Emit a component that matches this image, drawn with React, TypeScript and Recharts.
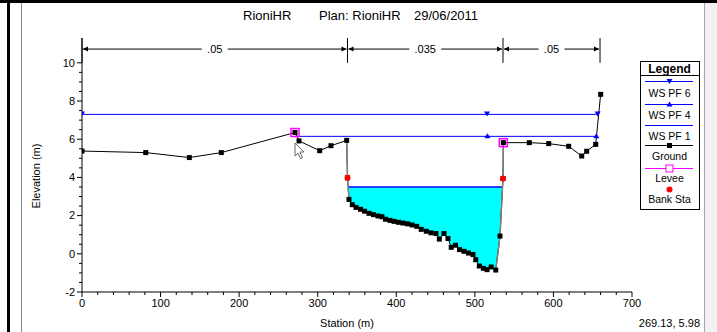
// App.tsx
// HEC-RAS style cross section (RioniHR) drawn with Recharts

import { ComposedChart, Line, Area, XAxis, YAxis, ReferenceLine } from 'recharts'

// ground profile, station (m) and elevation (m)
const groundStation = [
  0, 81.1, 136.6, 177.3, 271.1, 276.2, 302.5, 316.9, 336.9, 337.9,
  339.8, 344, 348.7, 354.5, 359.6, 365.3, 371, 376.7, 381.8, 386.3,
  392, 397.1, 402.8, 408.6, 414.3, 420, 426, 431.7, 438.2, 444.2,
  450.5, 454.8, 460.7, 465.8, 469.9, 475.4, 480.5, 486.2, 491.9, 497.6,
  501.1, 505.7, 510.8, 515.5, 520.8, 526.6, 532, 535.8, 536.2, 569.3,
  594, 619.4, 636, 642.3, 653.8, 660.1,
]
const groundElev = [
  5.38, 5.3, 5.04, 5.3, 6.35, 5.91, 5.4, 5.66, 5.94, 3.98,
  2.85, 2.57, 2.43, 2.33, 2.23, 2.12, 2.05, 1.98, 1.94, 1.81,
  1.75, 1.7, 1.65, 1.61, 1.57, 1.51, 1.44, 1.28, 1.18, 1.1,
  1.06, 0.77, 1.06, 0.8, 0.34, 0.45, 0.22, 0.13, 0.04, -0.04,
  -0.31, -0.64, -0.76, -0.83, -0.69, -0.85, 0.93, 3.94, 5.82, 5.82,
  5.77, 5.63, 5.12, 5.37, 5.73, 8.35,
]

const leveeStation = [271.1, 536.2]
const leveeElev = [6.35, 5.82]

const bankStation = [337.9, 535.8]
const bankElev = [3.98, 3.94]

// water surfaces
const wsPf6Station = [0, 515.5, 656.3]
const wsPf6Elev = 7.3
const wsPf4Station = [271.1, 516, 654.6]
const wsPf4Elev = 6.15
const wsPf1Station = [338.7, 535.2]
const wsPf1Elev = 3.5

// manning's n breaks
const nStations = [0, 337.9, 535.8, 659.3]
const nValues = ['.05', '.035', '.05']
const nElev = 10.72

const xMajorTicks = [0, 100, 200, 300, 400, 500, 600, 700]
const yMajorTicks = [-2, 0, 2, 4, 6, 8, 10]
const xTicks = Array.from({ length: 36 }, (_, i) => i * 20)
const yTicks = Array.from({ length: 25 }, (_, i) => -2 + i * 0.5)

const groundData = groundStation.map((s, i) => ({ station: s, elev: groundElev[i] }))
const leveeData = leveeStation.map((s, i) => ({ station: s, elev: leveeElev[i] }))
const bankData = bankStation.map((s, i) => ({ station: s, elev: bankElev[i] }))
const pf6Data = wsPf6Station.map(s => ({ station: s, elev: wsPf6Elev }))
const pf4Data = wsPf4Station.map(s => ({ station: s, elev: wsPf4Elev }))
const pf1Data = wsPf1Station.map(s => ({ station: s, elev: wsPf1Elev }))

// steep bank walls are drawn grey in the original
const leftWall = groundData.slice(8, 11)
const rightWall = groundData.slice(45, 49)

const [wLeft, wRight] = wsPf1Station
const waterData = [
  { station: wLeft, range: [wsPf1Elev, wsPf1Elev] },
  ...groundData
    .filter(p => p.station > wLeft && p.station < wRight)
    .map(p => ({ station: p.station, range: [p.elev, wsPf1Elev] })),
  { station: wRight, range: [wsPf1Elev, wsPf1Elev] },
]

const FONT = 'Arial, "Liberation Sans", sans-serif'
const BLUE = '#0000ff'

const YTick = (props: any) => {
  const { x, y, payload } = props
  const axisX = x + 3 + 4
  const major = yMajorTicks.includes(payload.value)
  return (
    <g>
      <line x1={axisX - (major ? 5 : 3)} y1={y} x2={axisX} y2={y} stroke="#000" />
      {major && (
        <text x={x} y={y} dy="0.35em" textAnchor="end" fontSize={11} fill="#000" fontFamily={FONT}>
          {payload.value}
        </text>
      )}
    </g>
  )
}

const XTick = (props: any) => {
  const { x, y, payload } = props
  const axisY = y - 4 - 2
  const major = xMajorTicks.includes(payload.value)
  return (
    <g>
      <line x1={x} y1={axisY} x2={x} y2={axisY + (major ? 5 : 3)} stroke="#000" />
      {major && (
        <text x={x} y={y} dy="0.8em" textAnchor="middle" fontSize={11} fill="#000" fontFamily={FONT}>
          {payload.value}
        </text>
      )}
    </g>
  )
}

const SquareDot = (props: any) => {
  const { cx, cy, index } = props
  if (cx == null || cy == null) return <g key={index} />
  return <rect key={index} x={cx - 2.5} y={cy - 2.5} width={5} height={5} fill="#000" />
}

const LeveeDot = (props: any) => {
  const { cx, cy, index } = props
  return (
    <g key={index}>
      <rect x={cx - 4} y={cy - 4} width={8} height={8} fill="none" stroke="#ff00ff" strokeWidth={1.5} />
      <rect x={cx - 2} y={cy - 2} width={4} height={4} fill="#000" />
    </g>
  )
}

const BankDot = (props: any) => {
  const { cx, cy, index } = props
  return <circle key={index} cx={cx} cy={cy} r={3} fill="#ff0000" />
}

const DownTri = (props: any) => {
  const { cx, cy, index } = props
  return <path key={index} d={`M${cx - 3},${cy - 3}L${cx + 3},${cy - 3}L${cx},${cy + 2}Z`} fill={BLUE} />
}

// pf4 starts at the levee, no marker there
const UpTri = (props: any) => {
  const { cx, cy, index } = props
  if (index === 0) return <g key={index} />
  return <path key={index} d={`M${cx - 3},${cy + 2}L${cx + 3},${cy + 2}L${cx},${cy - 3}Z`} fill={BLUE} />
}

const nArrow = (label: string) => (props: any) => {
  const { x1, y1, x2 } = props
  const mid = (x1 + x2) / 2
  const gap = label.length * 3 + 4
  return (
    <g>
      <line x1={x1 + 1} y1={y1} x2={mid - gap} y2={y1} stroke="#000" />
      <line x1={mid + gap} y1={y1} x2={x2 - 1} y2={y1} stroke="#000" />
      <path d={`M${x1 + 1},${y1}L${x1 + 6},${y1 - 2.5}L${x1 + 6},${y1 + 2.5}Z`} fill="#000" />
      <path d={`M${x2 - 1},${y1}L${x2 - 6},${y1 - 2.5}L${x2 - 6},${y1 + 2.5}Z`} fill="#000" />
      <text x={mid} y={y1} dy="0.35em" textAnchor="middle" fontSize={11} fontFamily={FONT} fill="#000">
        {label}
      </text>
    </g>
  )
}

function LegendBox() {
  const lx1 = 645
  const lx2 = 693
  const cx = 669.5
  const txt = (y: number, s: string) => (
    <text x={cx} y={y} dy="0.35em" textAnchor="middle" fontSize={10.5} fontFamily={FONT} fill="#000">{s}</text>
  )
  return (
    <g>
      <rect x={640.5} y={61.5} width={59} height={148} fill="#fff" stroke="#000" />
      <text x={cx} y={68.5} dy="0.35em" textAnchor="middle" fontSize={12} fontWeight="bold" fontFamily={FONT}>Legend</text>
      <line x1={640.5} y1={75.5} x2={699.5} y2={75.5} stroke="#000" />
      <line x1={lx1} y1={81.5} x2={lx2} y2={81.5} stroke={BLUE} />
      <path d={`M${cx - 3},${79}L${cx + 3},${79}L${cx},${84}Z`} fill={BLUE} />
      {txt(93.5, 'WS PF 6')}
      <line x1={lx1} y1={104.5} x2={lx2} y2={104.5} stroke={BLUE} />
      <path d={`M${cx - 3},${106.5}L${cx + 3},${106.5}L${cx},${101.5}Z`} fill={BLUE} />
      {txt(115, 'WS PF 4')}
      <line x1={lx1} y1={125.5} x2={lx2} y2={125.5} stroke={BLUE} />
      {txt(136, 'WS PF 1')}
      <line x1={lx1} y1={145.5} x2={lx2} y2={145.5} stroke="#000" />
      <rect x={cx - 2.5} y={143} width={5} height={5} fill="#000" />
      {txt(156.5, 'Ground')}
      <line x1={lx1} y1={168.5} x2={lx2} y2={168.5} stroke="#ff00ff" />
      <rect x={cx - 3.5} y={165} width={7} height={7} fill="#fff" stroke="#ff00ff" />
      {txt(178.5, 'Levee')}
      <circle cx={cx} cy={189.5} r={3} fill="#ff0000" />
      {txt(199.5, 'Bank Sta')}
    </g>
  )
}

function Overlay() {
  return (
    <svg
      width={717}
      height={332}
      style={{ position: 'absolute', left: 0, top: 0, pointerEvents: 'none' }}
      fontFamily={FONT}
    >
      <rect x={0} y={0} width={717} height={3} fill="#000" />
      <rect x={7} y={0} width={3} height={332} fill="#000" />
      <line x1={21.5} y1={3} x2={21.5} y2={332} stroke="#8a8a8a" />
      <rect x={705} y={3} width={12} height={329} fill="#f2f2f2" />
      <line x1={704.5} y1={3} x2={704.5} y2={332} stroke="#a8a8a8" />

      <text x={243} y={19.5} fontSize={13} fill="#000">RioniHR</text>
      <text x={319} y={19.5} fontSize={13} fill="#000">Plan: RioniHR</text>
      <text x={414} y={19.5} fontSize={13} fill="#000">29/06/2011</text>

      <text x={36} y={176} transform="rotate(-90 36 176)" textAnchor="middle" dy="0.35em" fontSize={11} fill="#000">
        Elevation (m)
      </text>
      <text x={347} y={323} textAnchor="middle" dy="0.35em" fontSize={11} fill="#000">Station (m)</text>
      <text x={700} y={323} textAnchor="end" dy="0.35em" fontSize={11} fill="#000">269.13, 5.98</text>

      <LegendBox />

      <path
        d="M295,143 L295,156 L298,153 L300.5,158.5 L302.5,157.5 L300,152 L304,152 Z"
        fill="#fff"
        stroke="#666"
        strokeWidth={1}
      />
    </svg>
  )
}

export default function App() {
  return (
    <div style={{ position: 'absolute', left: 0, top: 0, width: 717, height: 332, background: '#fff', fontFamily: FONT }}>
      <ComposedChart width={717} height={332} margin={{ top: 38, right: 85, bottom: 0, left: 0 }}>
        <XAxis
          type="number"
          dataKey="station"
          domain={[0, 700]}
          ticks={xTicks}
          interval={0}
          allowDataOverflow
          tickLine={false}
          tickSize={4}
          tickMargin={2}
          tick={XTick}
          axisLine={{ stroke: '#000' }}
          height={40}
        />
        <YAxis
          type="number"
          domain={[-2, 11.3]}
          ticks={yTicks}
          interval={0}
          allowDataOverflow
          tickLine={false}
          tickSize={3}
          tickMargin={4}
          tick={YTick}
          axisLine={{ stroke: '#000' }}
          width={82}
        />

        <Area
          data={waterData}
          dataKey="range"
          type="linear"
          stroke="none"
          fill="#00ffff"
          fillOpacity={1}
          dot={false}
          activeDot={false}
          isAnimationActive={false}
        />
        <Line data={pf6Data} dataKey="elev" type="linear" stroke={BLUE} strokeWidth={1} dot={DownTri} activeDot={false} isAnimationActive={false} />
        <Line data={pf4Data} dataKey="elev" type="linear" stroke={BLUE} strokeWidth={1} dot={UpTri} activeDot={false} isAnimationActive={false} />
        <Line data={pf1Data} dataKey="elev" type="linear" stroke={BLUE} strokeWidth={1.5} dot={false} activeDot={false} isAnimationActive={false} />
        <Line data={groundData} dataKey="elev" type="linear" stroke="#000" strokeWidth={1} dot={SquareDot} activeDot={false} isAnimationActive={false} />
        <Line data={leftWall} dataKey="elev" type="linear" stroke="#808080" strokeWidth={1.5} dot={false} activeDot={false} isAnimationActive={false} />
        <Line data={rightWall} dataKey="elev" type="linear" stroke="#808080" strokeWidth={1.5} dot={false} activeDot={false} isAnimationActive={false} />
        <Line data={leveeData} dataKey="elev" type="linear" stroke="none" dot={LeveeDot} activeDot={false} isAnimationActive={false} />
        <Line data={bankData} dataKey="elev" type="linear" stroke="none" dot={BankDot} activeDot={false} isAnimationActive={false} />

        {nStations.map(s => (
          <ReferenceLine key={`v${s}`} segment={[{ x: s, y: 10 }, { x: s, y: 11.3 }]} stroke="#000" ifOverflow="visible" />
        ))}
        {nValues.map((v, i) => (
          <ReferenceLine
            key={`n${i}`}
            segment={[{ x: nStations[i], y: nElev }, { x: nStations[i + 1], y: nElev }]}
            shape={nArrow(v)}
            ifOverflow="visible"
          />
        ))}
      </ComposedChart>
      <Overlay />
    </div>
  )
}
